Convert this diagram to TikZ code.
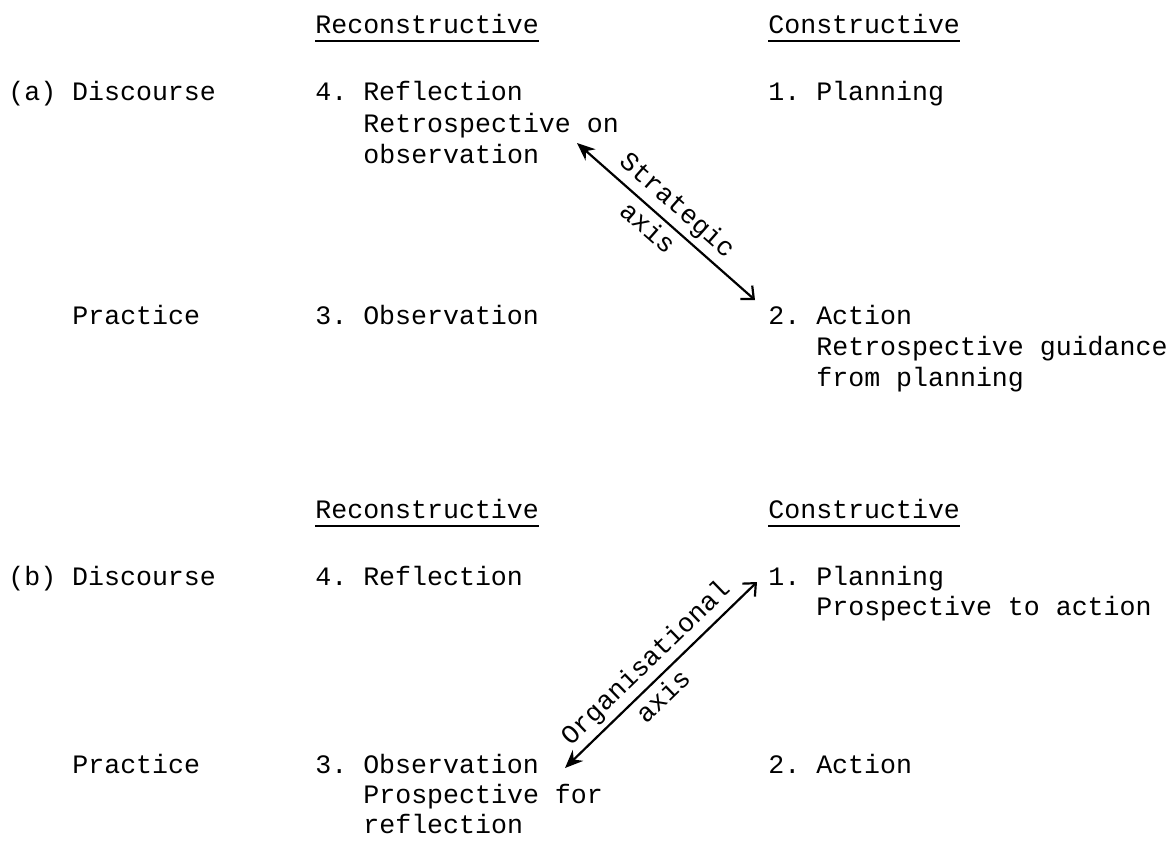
\documentclass[tikz,border=0pt]{standalone}
\usepackage{fontspec}
\setmonofont{Liberation Mono}
\usetikzlibrary{arrows.meta,positioning}

\begin{document}
\begin{tikzpicture}[x=0.5pt,y=-0.5pt,
        txt/.style={anchor=base west, inner sep=0pt, font=\ttfamily\fontsize{13.3}{15.5}\selectfont},
        uline/.style={line width=1pt},
        axisarrow/.style={line width=1.1pt, {Stealth[length=9pt,width=7.5pt]}-{Straight Barb[length=5pt,width=9pt]}},
        axislabel/.style={font=\ttfamily\fontsize{13.3}{15.5}\selectfont, sloped, inner sep=2.5pt}]
                \useasboundingbox (0,0) rectangle (1169,843);

                % (a) strategic
                \node[txt] (hRa) at (315,33) {Reconstructive};
                \node[txt] (hCa) at (768,33) {Constructive};
                \draw[uline] ([yshift=-4pt]hRa.base west) -- ([yshift=-4pt]hRa.base east);
                \draw[uline] ([yshift=-4pt]hCa.base west) -- ([yshift=-4pt]hCa.base east);

                \node[txt] (disA) at (8,100) {(a) Discourse};
                \node[txt] (refA) at (315,100) {4. Reflection};
                \node[txt] (refA2) at (363,132) {Retrospective on};
                \node[txt] (refA3) at (363,163) {observation};
                \node[txt] (plaA) at (768,100) {1. Planning};

                \node[txt] (prA) at (72,324) {Practice};
                \node[txt] (obsA) at (315,324) {3. Observation};
                \node[txt] (actA) at (768,324) {2. Action};
                \node[txt] (actA2) at (816,355) {Retrospective guidance};
                \node[txt] (actA3) at (816,386) {from planning};

                \coordinate (sA) at (577,143);
                \coordinate (eA) at (755,300);
                \draw[axisarrow] (sA) -- (eA)
                    node[axislabel, above, pos=0.49] {Strategic}
                    node[axislabel, below, pos=0.46] {axis};

                % (b) organisational
                \node[txt] (hRb) at (315,518) {Reconstructive};
                \node[txt] (hCb) at (768,518) {Constructive};
                \draw[uline] ([yshift=-4pt]hRb.base west) -- ([yshift=-4pt]hRb.base east);
                \draw[uline] ([yshift=-4pt]hCb.base west) -- ([yshift=-4pt]hCb.base east);

                \node[txt] (disB) at (8,585) {(b) Discourse};
                \node[txt] (refB) at (315,585) {4. Reflection};
                \node[txt] (plaB) at (768,585) {1. Planning};
                \node[txt] (plaB2) at (816,615) {Prospective to action};

                \node[txt] (prB) at (72,773) {Practice};
                \node[txt] (obsB) at (315,773) {3. Observation};
                \node[txt] (obsB2) at (363,803) {Prospective for};
                \node[txt] (obsB3) at (363,833) {reflection};
                \node[txt] (actB) at (768,773) {2. Action};

                \coordinate (sB) at (565,768);
                \coordinate (eB) at (757,582);
                \draw[axisarrow] (sB) -- (eB)
                    node[axislabel, above, pos=0.49] {Organisational}
                    node[axislabel, below, pos=0.45] {axis};
            \end{tikzpicture}
\end{document}
